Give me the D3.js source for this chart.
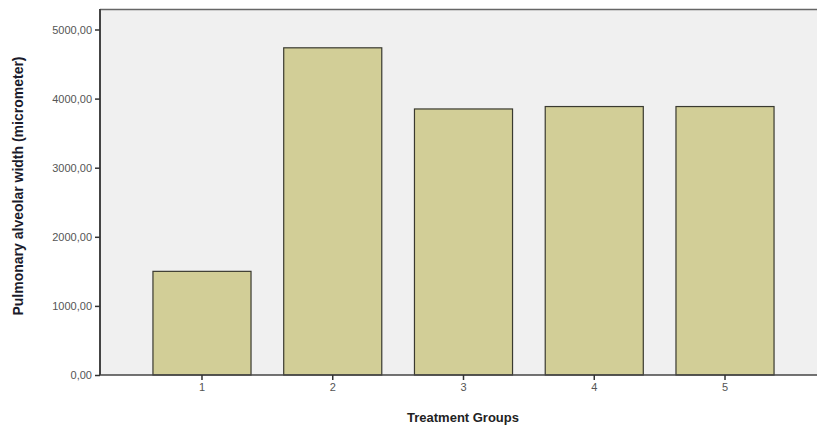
<!DOCTYPE html>
<html><head><meta charset="utf-8">
<script src="https://cdn.jsdelivr.net/npm/d3@7"></script>
<style>body{margin:0;background:#fff}svg{display:block}</style>
</head><body>
<svg id="c" width="817" height="429"></svg>
<script>
const categories = ["1","2","3","4","5"];
const values = [1500, 4735, 3850, 3885, 3885];
const yTicks = [0, 1000, 2000, 3000, 4000, 5000];
const yTickLabels = ["0,00","1000,00","2000,00","3000,00","4000,00","5000,00"];

const svg = d3.select("#c");
const L = 100, T = 9, B = 375, R = 827;
const x = d3.scaleBand().domain(categories).range([L, R]).paddingInner(0.25).paddingOuter(0.405);
const y = d3.scaleLinear().domain([0, 5000]).range([B, 29.5]);

svg.append("rect").attr("x", L).attr("y", T).attr("width", 817 - L).attr("height", B - T).attr("fill", "#f0f0f0");
svg.append("line").attr("x1", L).attr("x2", 817).attr("y1", T + 0.5).attr("y2", T + 0.5).attr("stroke", "#666").attr("stroke-width", 1.5);

svg.selectAll("rect.bar").data(values).enter().append("rect").attr("class", "bar")
  .attr("x", (d, i) => x(categories[i])).attr("width", x.bandwidth())
  .attr("y", d => y(d)).attr("height", d => B - y(d))
  .attr("fill", "#d2ce97").attr("stroke", "#3a3a30").attr("stroke-width", 1.2);

const ya = d3.axisLeft(y).tickValues(yTicks).tickFormat((d, i) => yTickLabels[i]).tickSize(5).tickPadding(3);
const gy = svg.append("g").attr("transform", `translate(${L},0)`).call(ya);
gy.select(".domain").attr("stroke", "#444").attr("stroke-width", 2).attr("d", `M0,${T}V${B}`);
gy.selectAll(".tick line").attr("stroke", "#333").attr("stroke-width", 1.5);
gy.selectAll("text").attr("font-family", "Arial, 'Liberation Sans', sans-serif").attr("font-size", 11).attr("fill", "#555");

const xa = d3.axisBottom(x).tickSize(5).tickPadding(3);
const gx = svg.append("g").attr("transform", `translate(0,${B})`).call(xa);
gx.select(".domain").attr("stroke", "#444").attr("stroke-width", 1.5).attr("d", `M${L},0H817`);
gx.selectAll(".tick line").attr("stroke", "#333").attr("stroke-width", 1.5);
gx.selectAll("text").attr("font-family", "Arial, 'Liberation Sans', sans-serif").attr("font-size", 11).attr("fill", "#555");

svg.append("text").attr("x", 463).attr("y", 422).attr("text-anchor", "middle")
  .attr("font-family", "Arial, 'Liberation Sans', sans-serif").attr("font-size", 13).attr("font-weight", "bold").attr("fill", "#222")
  .text("Treatment Groups");
svg.append("text").attr("transform", "translate(23,186) rotate(-90)").attr("text-anchor", "middle")
  .attr("font-family", "Arial, 'Liberation Sans', sans-serif").attr("font-size", 14).attr("font-weight", "bold").attr("fill", "#1a1a2a")
  .text("Pulmonary alveolar width (micrometer)");
</script>
</body></html>
